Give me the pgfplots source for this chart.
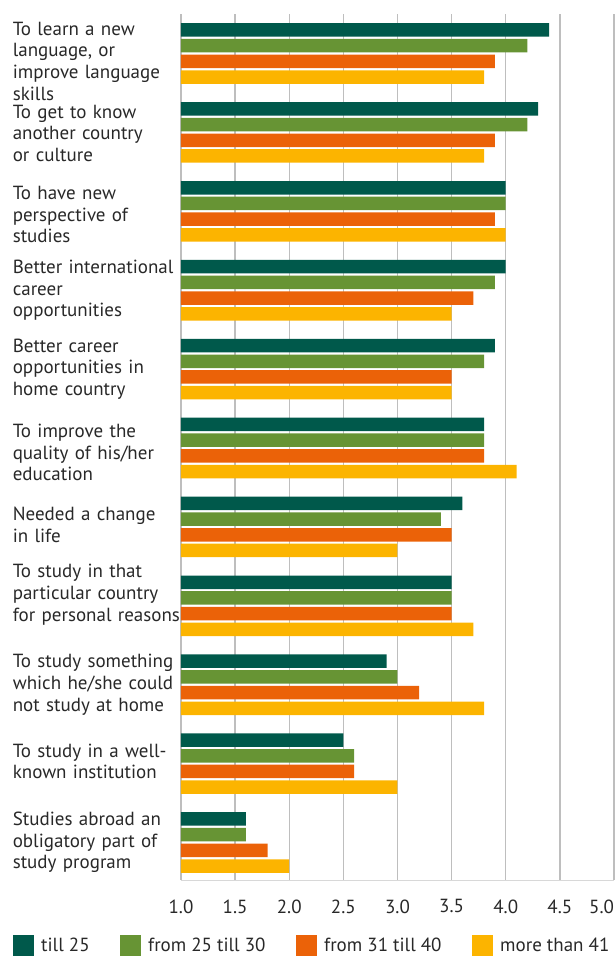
\documentclass[border=0pt]{standalone}
\usepackage{pgfplots}
\pgfplotsset{compat=1.18}
\usepackage{fontspec}
\setmainfont{PT Sans}
\definecolor{cA}{RGB}{0,89,75}
\definecolor{cB}{RGB}{103,148,52}
\definecolor{cC}{RGB}{235,98,8}
\definecolor{cD}{RGB}{252,180,0}
\definecolor{gridc}{RGB}{190,190,190}
\definecolor{txt}{RGB}{40,40,40}
\begin{document}
\begin{tikzpicture}[x=1pt,y=1pt]
\useasboundingbox (-181,-76) rectangle (434,880);
\begin{axis}[
  at={(0,0)}, anchor=south west,
  scale only axis, width=433pt, height=866pt,
  xmin=1, xmax=5, ymin=-0.501, ymax=10.475,
  y dir=reverse,
  xbar, bar width=0.171,
  xtick={1,1.5,2,2.5,3,3.5,4,4.5,5},
  xticklabels={1.0,1.5,2.0,2.5,3.0,3.5,4.0,4.5,\makebox[0pt][r]{5.0}},
  xmajorgrids, major grid style={draw=gridc, line width=1.3pt},
  major tick length=0pt,
  axis x line*=bottom, axis y line*=left,
  x axis line style={draw=gridc!60, line width=0.8pt},
  y axis line style={draw=gridc, line width=1.3pt},
  xticklabel style={font=\fontsize{19}{21}\selectfont, text=txt, yshift=-16pt},
  ytick={0.095,1.01,2.04,3,4,5.057,5.975,6.86,8,8.97,10},
  yticklabels={
    {To learn a new\\language, or\\improve language\\skills},
    {To get to know\\another country\\or culture},
    {To have new\\perspective of\\studies},
    {Better international\\career\\opportunities},
    {Better career\\opportunities in\\home country},
    {To improve the\\quality of his/her\\education},
    {Needed a change\\in life},
    {To study in that\\particular country\\for personal reasons},
    {To study something\\which he/she could\\not study at home},
    {To study in a well-\\known institution},
    {Studies abroad an\\obligatory part of\\study program}},
  yticklabel style={font=\fontsize{19}{21.7}\selectfont, text=txt, text width=168pt, align=left, inner sep=0pt},
  legend columns=4,
  legend style={at={(axis description cs:0,0)}, anchor=west, xshift=-168pt, yshift=-65pt,
    draw=none, fill=none, inner sep=0pt,
    font=\fontsize{19}{21}\selectfont, text=txt,
    nodes={inner xsep=0pt},
    /tikz/every odd column/.append style={column sep=7pt}},
  legend image code/.code={\fill[#1,draw=none] (0pt,-10.5pt) rectangle (21pt,10.5pt);},
]
\addplot[fill=cA, draw=none, bar shift=-0.2985] coordinates {
(4.4,0) (4.3,1) (4.0,2) (4.0,3) (3.9,4) (3.8,5) (3.6,6) (3.5,7) (2.9,8) (2.5,9) (1.6,10)};
\addplot[fill=cB, draw=none, bar shift=-0.0995] coordinates {
(4.2,0) (4.2,1) (4.0,2) (3.9,3) (3.8,4) (3.8,5) (3.4,6) (3.5,7) (3.0,8) (2.6,9) (1.6,10)};
\addplot[fill=cC, draw=none, bar shift=0.0995] coordinates {
(3.9,0) (3.9,1) (3.9,2) (3.7,3) (3.5,4) (3.8,5) (3.5,6) (3.5,7) (3.2,8) (2.6,9) (1.8,10)};
\addplot[fill=cD, draw=none, bar shift=0.2985] coordinates {
(3.8,0) (3.8,1) (4.0,2) (3.5,3) (3.5,4) (4.1,5) (3.0,6) (3.7,7) (3.8,8) (3.0,9) (2.0,10)};
\legend{\makebox[79pt][l]{till 25},\makebox[148pt][l]{from 25 till 30},\makebox[148pt][l]{from 31 till 40},more than 41}
\end{axis}
\end{tikzpicture}
\end{document}
